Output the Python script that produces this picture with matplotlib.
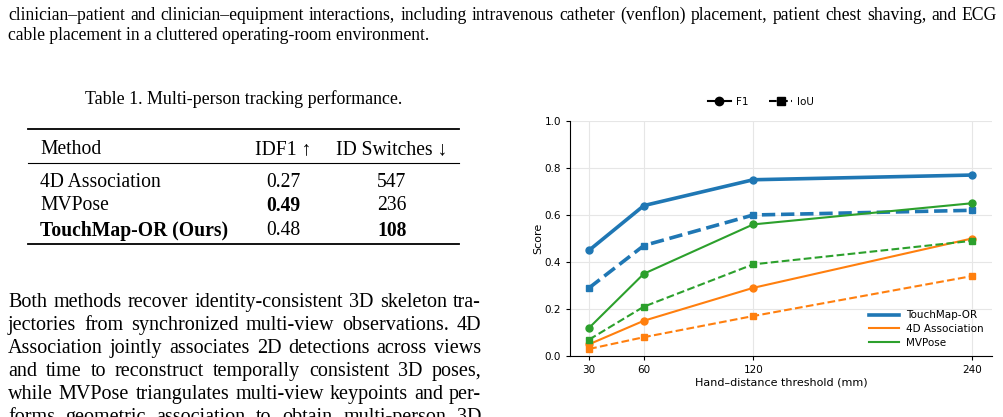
import matplotlib
matplotlib.use("Agg")
import matplotlib.pyplot as plt
from matplotlib.lines import Line2D

W, H = 1004, 417

# ---- page text ----
top_lines = [
    "clinician\u2013patient and clinician\u2013equipment interactions, including intravenous catheter (venflon) placement, patient chest shaving, and ECG",
    "cable placement in a cluttered operating-room environment.",
]
para_lines = [
    "Both methods recover identity-consistent 3D skeleton tra-",
    "jectories from synchronized multi-view observations.  4D",
    "Association jointly associates 2D detections across views",
    "and time to reconstruct temporally consistent 3D poses,",
    "while MVPose triangulates multi-view keypoints and per-",
    "forms geometric association to obtain multi-person 3D",
]

# ---- table ----
table_caption = "Table 1. Multi-person tracking performance."
table_header = ["Method", "IDF1 \u2191", "ID Switches \u2193"]
table_methods = ["4D Association", "MVPose", "TouchMap-OR (Ours)"]
table_idf1 = ["0.27", "0.49", "0.48"]
table_idsw = ["547", "236", "108"]
bold_cells = {(1, 1), (2, 0), (2, 2)}

# ---- chart data ----
thresholds = [30, 60, 120, 240]
methods = ["TouchMap-OR", "4D Association", "MVPose"]
colors = ["#1f77b4", "#ff7f0e", "#2ca02c"]
f1 = {
    "TouchMap-OR": [0.45, 0.64, 0.75, 0.77],
    "4D Association": [0.05, 0.15, 0.29, 0.50],
    "MVPose": [0.12, 0.35, 0.56, 0.65],
}
iou = {
    "TouchMap-OR": [0.29, 0.47, 0.60, 0.62],
    "4D Association": [0.03, 0.08, 0.17, 0.34],
    "MVPose": [0.07, 0.21, 0.39, 0.49],
}

SERIF = ["Liberation Serif", "DejaVu Serif"]

fig = plt.figure(figsize=(W / 100, H / 100), dpi=100)
renderer = fig.canvas.get_renderer()


def fx(px):
    return px / W


def fy(py):
    return 1 - py / H


def put(x, y, s, size, ha="left", weight="normal"):
    return fig.text(fx(x), fy(y), s, fontsize=size, family=SERIF, ha=ha,
                    va="center_baseline", fontweight=weight)


def text_width(s, size, weight="normal"):
    t = fig.text(0, 0, s, fontsize=size, family=SERIF, fontweight=weight)
    w = t.get_window_extent(renderer).width
    t.remove()
    return w


def fit_size(lines, target, weight="normal"):
    # font size at which the widest line is `target` pixels wide
    ref = max(text_width(l, 10, weight) for l in lines)
    return 10 * target / ref


def justify(line, x0, x1, y, size):
    words = line.split()
    widths = [text_width(w, size) for w in words]
    gap = (x1 - x0 - sum(widths)) / max(len(words) - 1, 1)
    x = x0
    for w, wd in zip(words, widths):
        put(x, y, w, size)
        x += wd + gap


# top text (condensed in the original, so fit it to the column)
top_size = fit_size(top_lines[:1], 984)
justify(top_lines[0], 8, 997, 13, top_size)
put(8, 34, top_lines[1], top_size)

# table
cap_size = fit_size([table_caption], 318)
put(244, 97, table_caption, cap_size, ha="center")
for yy, lw in [(129, 1.3), (163, 0.8), (244, 1.3)]:
    fig.add_artist(Line2D([fx(28), fx(459)], [fy(yy), fy(yy)], color="black", lw=lw))
tab_size = fit_size(["TouchMap-OR (Ours)"], 188, "bold")
col_x = [40, 283, 392]
put(col_x[0], 147, table_header[0], tab_size)
put(col_x[1], 147, table_header[1], tab_size, ha="center")
put(col_x[2], 147, table_header[2], tab_size, ha="center")
row_y = [180, 203, 228]
for i in range(3):
    cells = [table_methods[i], table_idf1[i], table_idsw[i]]
    for j, c in enumerate(cells):
        wt = "bold" if (i, j) in bold_cells else "normal"
        put(col_x[j], row_y[i], c, tab_size, ha="left" if j == 0 else "center", weight=wt)

# paragraph (justified)
para_size = fit_size(para_lines, 466)
for k, line in enumerate(para_lines):
    justify(line, 8, 481, 300 + 23 * k, para_size)

# ---- chart ----
ax = fig.add_axes([fx(570), fy(356), fx(992) - fx(570), fy(121) - fy(356)])
for m, c in zip(methods, colors):
    lw = 2.6 if m == "TouchMap-OR" else 1.5
    ax.plot(thresholds, f1[m], color=c, lw=lw, marker="o", markersize=5, ls="-")
    ax.plot(thresholds, iou[m], color=c, lw=lw, marker="s", markersize=5, ls="--")

ax.set_xlim(19.5, 251)
ax.set_ylim(0, 1.0)
ax.set_xticks(thresholds)
ax.set_yticks([0, 0.2, 0.4, 0.6, 0.8, 1.0])
ax.set_yticklabels(["0.0", "0.2", "0.4", "0.6", "0.8", "1.0"])
ax.tick_params(labelsize=7.5, length=3)
ax.grid(True, color="#e6e6e6", lw=0.8)
ax.set_axisbelow(True)
for s in ["top", "right"]:
    ax.spines[s].set_visible(False)
ax.set_xlabel("Hand\u2013distance threshold (mm)", fontsize=8, labelpad=2)
ax.set_ylabel("Score", fontsize=8, labelpad=1)

method_handles = [Line2D([], [], color=c, lw=(2.6 if m == "TouchMap-OR" else 1.5))
                  for m, c in zip(methods, colors)]
ax.legend(method_handles, methods, loc="lower right", frameon=False, fontsize=7.5,
          handlelength=2.9, handletextpad=0.7, borderaxespad=0.4, labelspacing=0.35)

style_handles = [
    Line2D([], [], color="black", lw=1.5, marker="o", markersize=6, ls="-"),
    Line2D([], [], color="black", lw=1.5, marker="s", markersize=6, ls="--"),
]
fig.legend(style_handles, ["F1", "IoU"], loc="center", ncol=2, frameon=False,
           fontsize=7.5, handlelength=2.2, handletextpad=0.5, columnspacing=2.0,
           bbox_to_anchor=(fx(761), fy(102)))

fig.savefig("out.png", dpi=100)
